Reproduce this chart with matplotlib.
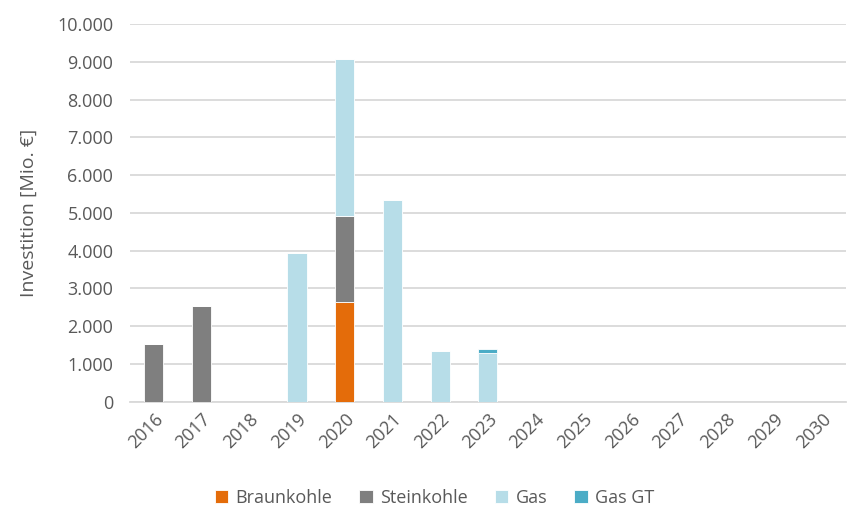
import numpy as np
import matplotlib.pyplot as plt
from matplotlib.ticker import FuncFormatter

years = [str(y) for y in range(2016, 2031)]
braunkohle = [0, 0, 0, 0, 2630, 0, 0, 0, 0, 0, 0, 0, 0, 0, 0]
steinkohle = [1540, 2540, 0, 0, 2290, 0, 0, 0, 0, 0, 0, 0, 0, 0, 0]
gas = [0, 0, 0, 3940, 4150, 5330, 1335, 1300, 0, 0, 0, 0, 0, 0, 0]
gas_gt = [0, 0, 0, 0, 0, 0, 0, 105, 0, 0, 0, 0, 0, 0, 0]

series = [
    ("Braunkohle", braunkohle, "#E46C0A"),
    ("Steinkohle", steinkohle, "#7F7F7F"),
    ("Gas", gas, "#B7DDE8"),
    ("Gas GT", gas_gt, "#4BACC6"),
]

plt.rcParams['font.family'] = ['Open Sans', 'DejaVu Sans']
text_col = "#595959"

fig = plt.figure(figsize=(8.47, 5.15), dpi=100)
ax = fig.add_axes([0.1535, 0.22, 0.845, 0.733])

x = np.arange(len(years))
bottom = np.zeros(len(years))
for name, vals, col in series:
    vals = np.array(vals, dtype=float)
    ax.bar(x, vals, 0.4, bottom=bottom, color=col, label=name,
           edgecolor="white", linewidth=0.6, zorder=3)
    bottom += vals

ax.set_xlim(-0.5, len(years) - 0.5)
ax.set_ylim(0, 10000)
ax.set_yticks(np.arange(0, 10001, 1000))
ax.yaxis.set_major_formatter(FuncFormatter(lambda v, p: f"{int(v):,}".replace(",", ".")))
ax.grid(axis="y", color="#D9D9D9", linewidth=1.3, zorder=0)
for s in ["top", "right", "left"]:
    ax.spines[s].set_visible(False)
ax.spines["bottom"].set_color("#D9D9D9")
ax.spines["bottom"].set_linewidth(1.3)
ax.tick_params(axis="both", length=0, colors=text_col, labelsize=13)
ax.tick_params(axis="y", pad=12)
ax.set_xticks(x)
ax.set_xticklabels(years, rotation=45, ha="right", rotation_mode="anchor")
ax.tick_params(axis="x", pad=6)
ax.set_ylabel("Investition [Mio. €]", color=text_col, fontsize=14, labelpad=14)

leg = fig.legend(loc="lower center", ncol=4, frameon=False, bbox_to_anchor=(0.513, -0.016),
                 fontsize=13, handlelength=0.75, handleheight=0.75, columnspacing=1.5,
                 handletextpad=0.4)
for t in leg.get_texts():
    t.set_color(text_col)

fig.savefig("out.png", dpi=100)
